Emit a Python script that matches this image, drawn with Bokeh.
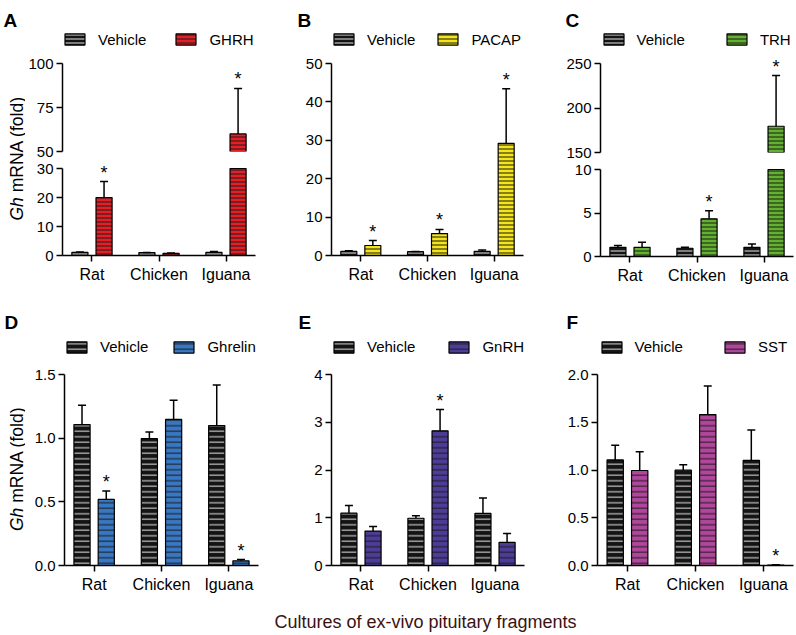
import math
from bokeh.plotting import figure
from bokeh.models import (ColumnDataSource, FactorRange, Range1d, FixedTicker, Legend,
                          LegendItem, Label, Div, NumeralTickFormatter, CDSView,
                          BooleanFilter)
from bokeh.layouts import row, column
from bokeh.transform import dodge
from bokeh.core.properties import value
from bokeh.embed import file_html
from bokeh.resources import INLINE
from bokeh.core.validation import silence
from bokeh.core.validation.warnings import MISSING_RENDERERS

silence(MISSING_RENDERERS, True)

# ---------------- data ----------------
CATEGORIES = ["Rat", "Chicken", "Iguana"]

A_VEHICLE = [1.1, 1.0, 1.1]
A_VEHICLE_SD = [0.15, 0.05, 0.32]
A_GHRH = [20.0, 0.75, 60.0]
A_GHRH_SD = [5.5, 0.1, 25.8]
A_SIG = [True, False, True]

B_VEHICLE = [1.1, 1.0, 1.1]
B_VEHICLE_SD = [0.15, 0.05, 0.32]
B_PACAP = [2.6, 5.7, 29.2]
B_PACAP_SD = [1.3, 1.1, 14.2]
B_SIG = [True, True, True]

C_VEHICLE = [1.06, 0.95, 1.06]
C_VEHICLE_SD = [0.2, 0.1, 0.38]
C_TRH = [1.06, 4.33, 179.5]
C_TRH_SD = [0.57, 0.92, 57.0]
C_SIG = [False, True, True]

D_VEHICLE = [1.107, 0.997, 1.099]
D_VEHICLE_SD = [0.151, 0.052, 0.319]
D_GHRELIN = [0.519, 1.147, 0.037]
D_GHRELIN_SD = [0.066, 0.15, 0.01]
D_SIG = [True, False, True]

E_VEHICLE = [1.095, 0.99, 1.09]
E_VEHICLE_SD = [0.16, 0.05, 0.324]
E_GNRH = [0.72, 2.82, 0.485]
E_GNRH_SD = [0.098, 0.445, 0.187]
E_SIG = [False, True, False]

F_VEHICLE = [1.106, 0.998, 1.10]
F_VEHICLE_SD = [0.154, 0.056, 0.32]
F_SST = [0.995, 1.58, 0.005]
F_SST_SD = [0.195, 0.30, 0.003]
F_SIG = [False, False, True]

A_TICKS_LOW = [0, 10, 20, 30]
A_TICKS_HIGH = [50, 75, 100]
B_TICKS = [0, 10, 20, 30, 40, 50]
C_TICKS_LOW = [0, 5, 10]
C_TICKS_HIGH = [150, 200, 250]
D_TICKS = [0.0, 0.5, 1.0, 1.5]
E_TICKS = [0, 1, 2, 3, 4]
F_TICKS = [0.0, 0.5, 1.0, 1.5, 2.0]

Y_LABEL_ITALIC = "Gh"
Y_LABEL_REST = "mRNA (fold)"
X_TITLE = "Cultures of ex-vivo pituitary fragments"

# ---------------- style ----------------
FONT = "Liberation Sans"
OFF = 0.18
BW = 0.24
VEH_FILL = "#141414"
VEH_HATCH = "#d4d4d4"
TRT_HATCH = "#1a1a1a"
COL_A = "#e41f26"
COL_B = "#f4e41c"
COL_C = "#62b22f"
COL_D = "#3877c1"
COL_E = "#4d3d98"
COL_F = "#b0479c"
HS_TOP = 4
HS_BOT = 5.5


def no_align(p):
    if "frame_align" in p.properties():
        p.frame_align = False


def ext_end(y0, y1, px_range, px_extra):
    return y1 + (y1 - y0) * px_extra / px_range


def base_fig(w, h, bl, br, bt, bb, y0, y1, ticks, show_x=True, bounds=None, fmt=None):
    p = figure(width=w, height=h, min_border_left=bl, min_border_right=br,
               min_border_top=bt, min_border_bottom=bb,
               x_range=FactorRange(*CATEGORIES, range_padding=-0.04),
               y_range=Range1d(y0, y1), toolbar_location=None, output_backend="svg",
               title=None, x_axis_location="below" if show_x else None)
    no_align(p)
    p.grid.visible = False
    p.outline_line_color = None
    p.background_fill_color = "white"
    p.border_fill_color = "white"
    ax = p.yaxis[0]
    ax.ticker = FixedTicker(ticks=ticks, minor_ticks=[])
    if bounds is not None:
        ax.bounds = bounds
    if fmt:
        ax.formatter = NumeralTickFormatter(format=fmt)
    for a in p.axis:
        a.axis_line_width = 1.5
        a.axis_line_color = "black"
        a.major_tick_line_width = 1.5
        a.major_tick_line_color = "black"
        a.major_tick_out = 6
        a.major_tick_in = 0
        a.minor_tick_out = 0
        a.minor_tick_in = 0
        a.major_label_text_font = FONT
        a.major_label_text_color = "black"
        a.major_label_text_font_size = "15px"
        a.major_label_standoff = 3
    if show_x:
        p.xaxis.major_label_text_font_size = "16px"
        p.xaxis.major_label_standoff = 4
    return p


def draw_series(p, vals, sds, sig, x_off, fill, hcolor, hs, hw, clip_min=None,
                clip_max=None):
    tops = [v + s for v, s in zip(vals, sds)]
    shown = [v if clip_max is None else min(v, clip_max) for v in vals]
    src = ColumnDataSource(dict(cat=CATEGORIES, val=vals, shown=shown, top=tops))
    bar_mask = [clip_min is None or v > clip_min for v in vals]
    err_mask = [(clip_min is None or t > clip_min) and (clip_max is None or t <= clip_max)
                for t in tops]
    x = dodge("cat", x_off, range=p.x_range)
    style = dict(fill_color=fill, line_color="black", line_width=1.2,
                 hatch_pattern=value("horizontal_line"), hatch_color=hcolor,
                 hatch_scale=hs, hatch_weight=hw)
    rb = p.vbar(x=x, top="shown", bottom=0, width=BW, source=src,
                view=CDSView(filter=BooleanFilter(bar_mask)), **style)
    p.segment(x0=x, y0="val", x1=x, y1="top", source=src,
              view=CDSView(filter=BooleanFilter(err_mask)),
              line_color="black", line_width=1.5)
    p.scatter(x=x, y="top", source=src, view=CDSView(filter=BooleanFilter(err_mask)),
              marker="dash", size=8, line_color="black", line_width=1.5)
    if sig is not None:
        star_mask = [m and s for m, s in zip(err_mask, sig)]
        p.text(x=x, y="top", text=value("*"), source=src,
               view=CDSView(filter=BooleanFilter(star_mask)),
               text_align="center", text_baseline="alphabetic", y_offset=-9,
               text_font=value(FONT), text_font_size="18px", text_color="black")
    if clip_min is not None:
        # hidden full-data twin, used only as the legend key
        return p.vbar(x=x, top="val", bottom=0, width=BW, source=src, visible=False,
                      **style)
    return rb


def draw(p, veh, veh_sd, trt, trt_sd, sig, color, hs, clip_min=None, clip_max=None):
    rv = draw_series(p, veh, veh_sd, None, -OFF, VEH_FILL, VEH_HATCH, hs, 1.1,
                     clip_min, clip_max)
    rt = draw_series(p, trt, trt_sd, sig, OFF, color, TRT_HATCH, hs, 1.0,
                     clip_min, clip_max)
    return rv, rt


def add_legend(p, rv, rt, name, lx, ly, sp):
    leg = Legend(items=[LegendItem(label=value("Vehicle"), renderers=[rv]),
                        LegendItem(label=value(name), renderers=[rt])],
                 orientation="horizontal", location=(lx, ly), glyph_width=25,
                 glyph_height=14, label_standoff=11, spacing=sp, padding=0, margin=0,
                 border_line_color=None, background_fill_alpha=0,
                 label_text_font=FONT, label_text_font_size="15px",
                 label_text_color="black", label_height=14, label_width=10)
    p.add_layout(leg)


def header_fig(h, y_top):
    p = figure(width=796, height=h, min_border=0, toolbar_location=None,
               output_backend="svg", title=None, x_axis_location=None,
               y_axis_location=None, x_range=Range1d(0, 796),
               y_range=Range1d(y_top + h, y_top))
    no_align(p)
    p.grid.visible = False
    p.outline_line_color = None
    return p


def header_title(hp, letter, x, y):
    hp.add_layout(Label(x=x, y=y, text=letter, text_font=FONT, text_font_style="bold",
                        text_font_size="19px", text_baseline="alphabetic",
                        text_color="black"))


def label_fig(h, ylab_y):
    p = figure(width=25, height=h, min_border=0, toolbar_location=None,
               output_backend="svg", title=None, x_axis_location=None,
               y_axis_location=None, x_range=Range1d(0, 1), y_range=Range1d(0, 1))
    no_align(p)
    p.grid.visible = False
    p.outline_line_color = None
    p.add_layout(Label(x=16, y=ylab_y, x_units="screen", y_units="screen",
                       text=Y_LABEL_ITALIC, angle=math.pi / 2, text_font=FONT,
                       text_font_style="italic", text_font_size="17.5px",
                       text_baseline="middle", text_align="left", text_color="black"))
    p.add_layout(Label(x=16, y=ylab_y + 28.2, x_units="screen", y_units="screen",
                       text=Y_LABEL_REST, angle=math.pi / 2, text_font=FONT,
                       text_font_size="17.5px", text_baseline="middle",
                       text_align="left", text_color="black"))
    return p


# ---------------- top header (y 0..30) ----------------
h_top = header_fig(30, 0)
header_title(h_top, "A", 3, 20)
header_title(h_top, "B", 297, 20)
header_title(h_top, "C", 565, 20)

# ---------------- top panels (y 30..290) ----------------
labA = label_fig(260, 70)

a_top = base_fig(243, 129, 37, 13, 0, 8, 50, ext_end(50, 100, 88, 33), A_TICKS_HIGH,
                 show_x=False, bounds=(50, 100))
rv, rt = draw(a_top, A_VEHICLE, A_VEHICLE_SD, A_GHRH, A_GHRH_SD, A_SIG, COL_A, HS_TOP,
              clip_min=50)
add_legend(a_top, rv, rt, "GHRH", 0, 103.5, 27)
a_bot = base_fig(243, 131, 37, 13, 0, 35, 0, ext_end(0, 30, 87, 9), A_TICKS_LOW,
                 bounds=(0, 30))
draw(a_bot, A_VEHICLE, A_VEHICLE_SD, A_GHRH, A_GHRH_SD, A_SIG, COL_A, HS_TOP, clip_max=30)

fb = base_fig(259, 260, 63, 4, 0, 35, 0, ext_end(0, 50, 192, 33), B_TICKS, bounds=(0, 50))
rv, rt = draw(fb, B_VEHICLE, B_VEHICLE_SD, B_PACAP, B_PACAP_SD, B_SIG, COL_B, HS_TOP)
add_legend(fb, rv, rt, "PACAP", 0, 207.5, 20)

c_top = base_fig(269, 130, 73, 3, 0, 8, 150, ext_end(150, 250, 89, 33), C_TICKS_HIGH,
                 show_x=False, bounds=(150, 250))
rv, rt = draw(c_top, C_VEHICLE, C_VEHICLE_SD, C_TRH, C_TRH_SD, C_SIG, COL_C, HS_TOP,
              clip_min=150)
add_legend(c_top, rv, rt, "TRH", 0.5, 104.5, 39)
c_bot = base_fig(269, 130, 73, 3, 0, 34, 0, ext_end(0, 10, 87, 9), C_TICKS_LOW,
                 bounds=(0, 10))
draw(c_bot, C_VEHICLE, C_VEHICLE_SD, C_TRH, C_TRH_SD, C_SIG, COL_C, HS_TOP, clip_max=10)

# ---------------- bottom header (y 290..334) ----------------
h_bot = header_fig(44, 290)
header_title(h_bot, "D", 4, 322)
header_title(h_bot, "E", 298, 322)
header_title(h_bot, "F", 566, 322)

# ---------------- bottom panels (y 334..600) ----------------
labD = label_fig(266, 69.5)

fd = base_fig(243, 266, 39, 10, 0, 35, 0, ext_end(0, 1.5, 191, 40), D_TICKS, fmt="0.0",
              bounds=(0, 1.5))
rv, rt = draw(fd, D_VEHICLE, D_VEHICLE_SD, D_GHRELIN, D_GHRELIN_SD, D_SIG, COL_D, HS_BOT)
add_legend(fd, rv, rt, "Ghrelin", 0, 210, 23)

fe = base_fig(259, 266, 63, 3, 0, 35, 0, ext_end(0, 4, 191, 40), E_TICKS, bounds=(0, 4))
rv, rt = draw(fe, E_VEHICLE, E_VEHICLE_SD, E_GNRH, E_GNRH_SD, E_SIG, COL_E, HS_BOT)
add_legend(fe, rv, rt, "GnRH", 0, 210, 31)

ff = base_fig(269, 266, 70, 3, 0, 35, 0, ext_end(0, 2.0, 191, 40), F_TICKS, fmt="0.0",
              bounds=(0, 2.0))
rv, rt = draw(ff, F_VEHICLE, F_VEHICLE_SD, F_SST, F_SST_SD, F_SIG, COL_F, HS_BOT)
add_legend(ff, rv, rt, "SST", 1.5, 210, 39)

xdiv = Div(width=796, height=35,
           text=('<div style="width:751px;margin-left:45px;text-align:center;'
                 'padding-top:8px;font-family:\'Liberation Sans\',Arial,sans-serif;'
                 'font-size:18px;line-height:18px;color:#3b1212;">' + X_TITLE + '</div>'))

top_row = row(labA, column(a_top, a_bot), fb, column(c_top, c_bot))
bot_row = row(labD, fd, fe, ff)
root = column(h_top, top_row, h_bot, bot_row, xdiv)

with open("out.html", "w") as fh:
    fh.write(file_html(root, INLINE))
